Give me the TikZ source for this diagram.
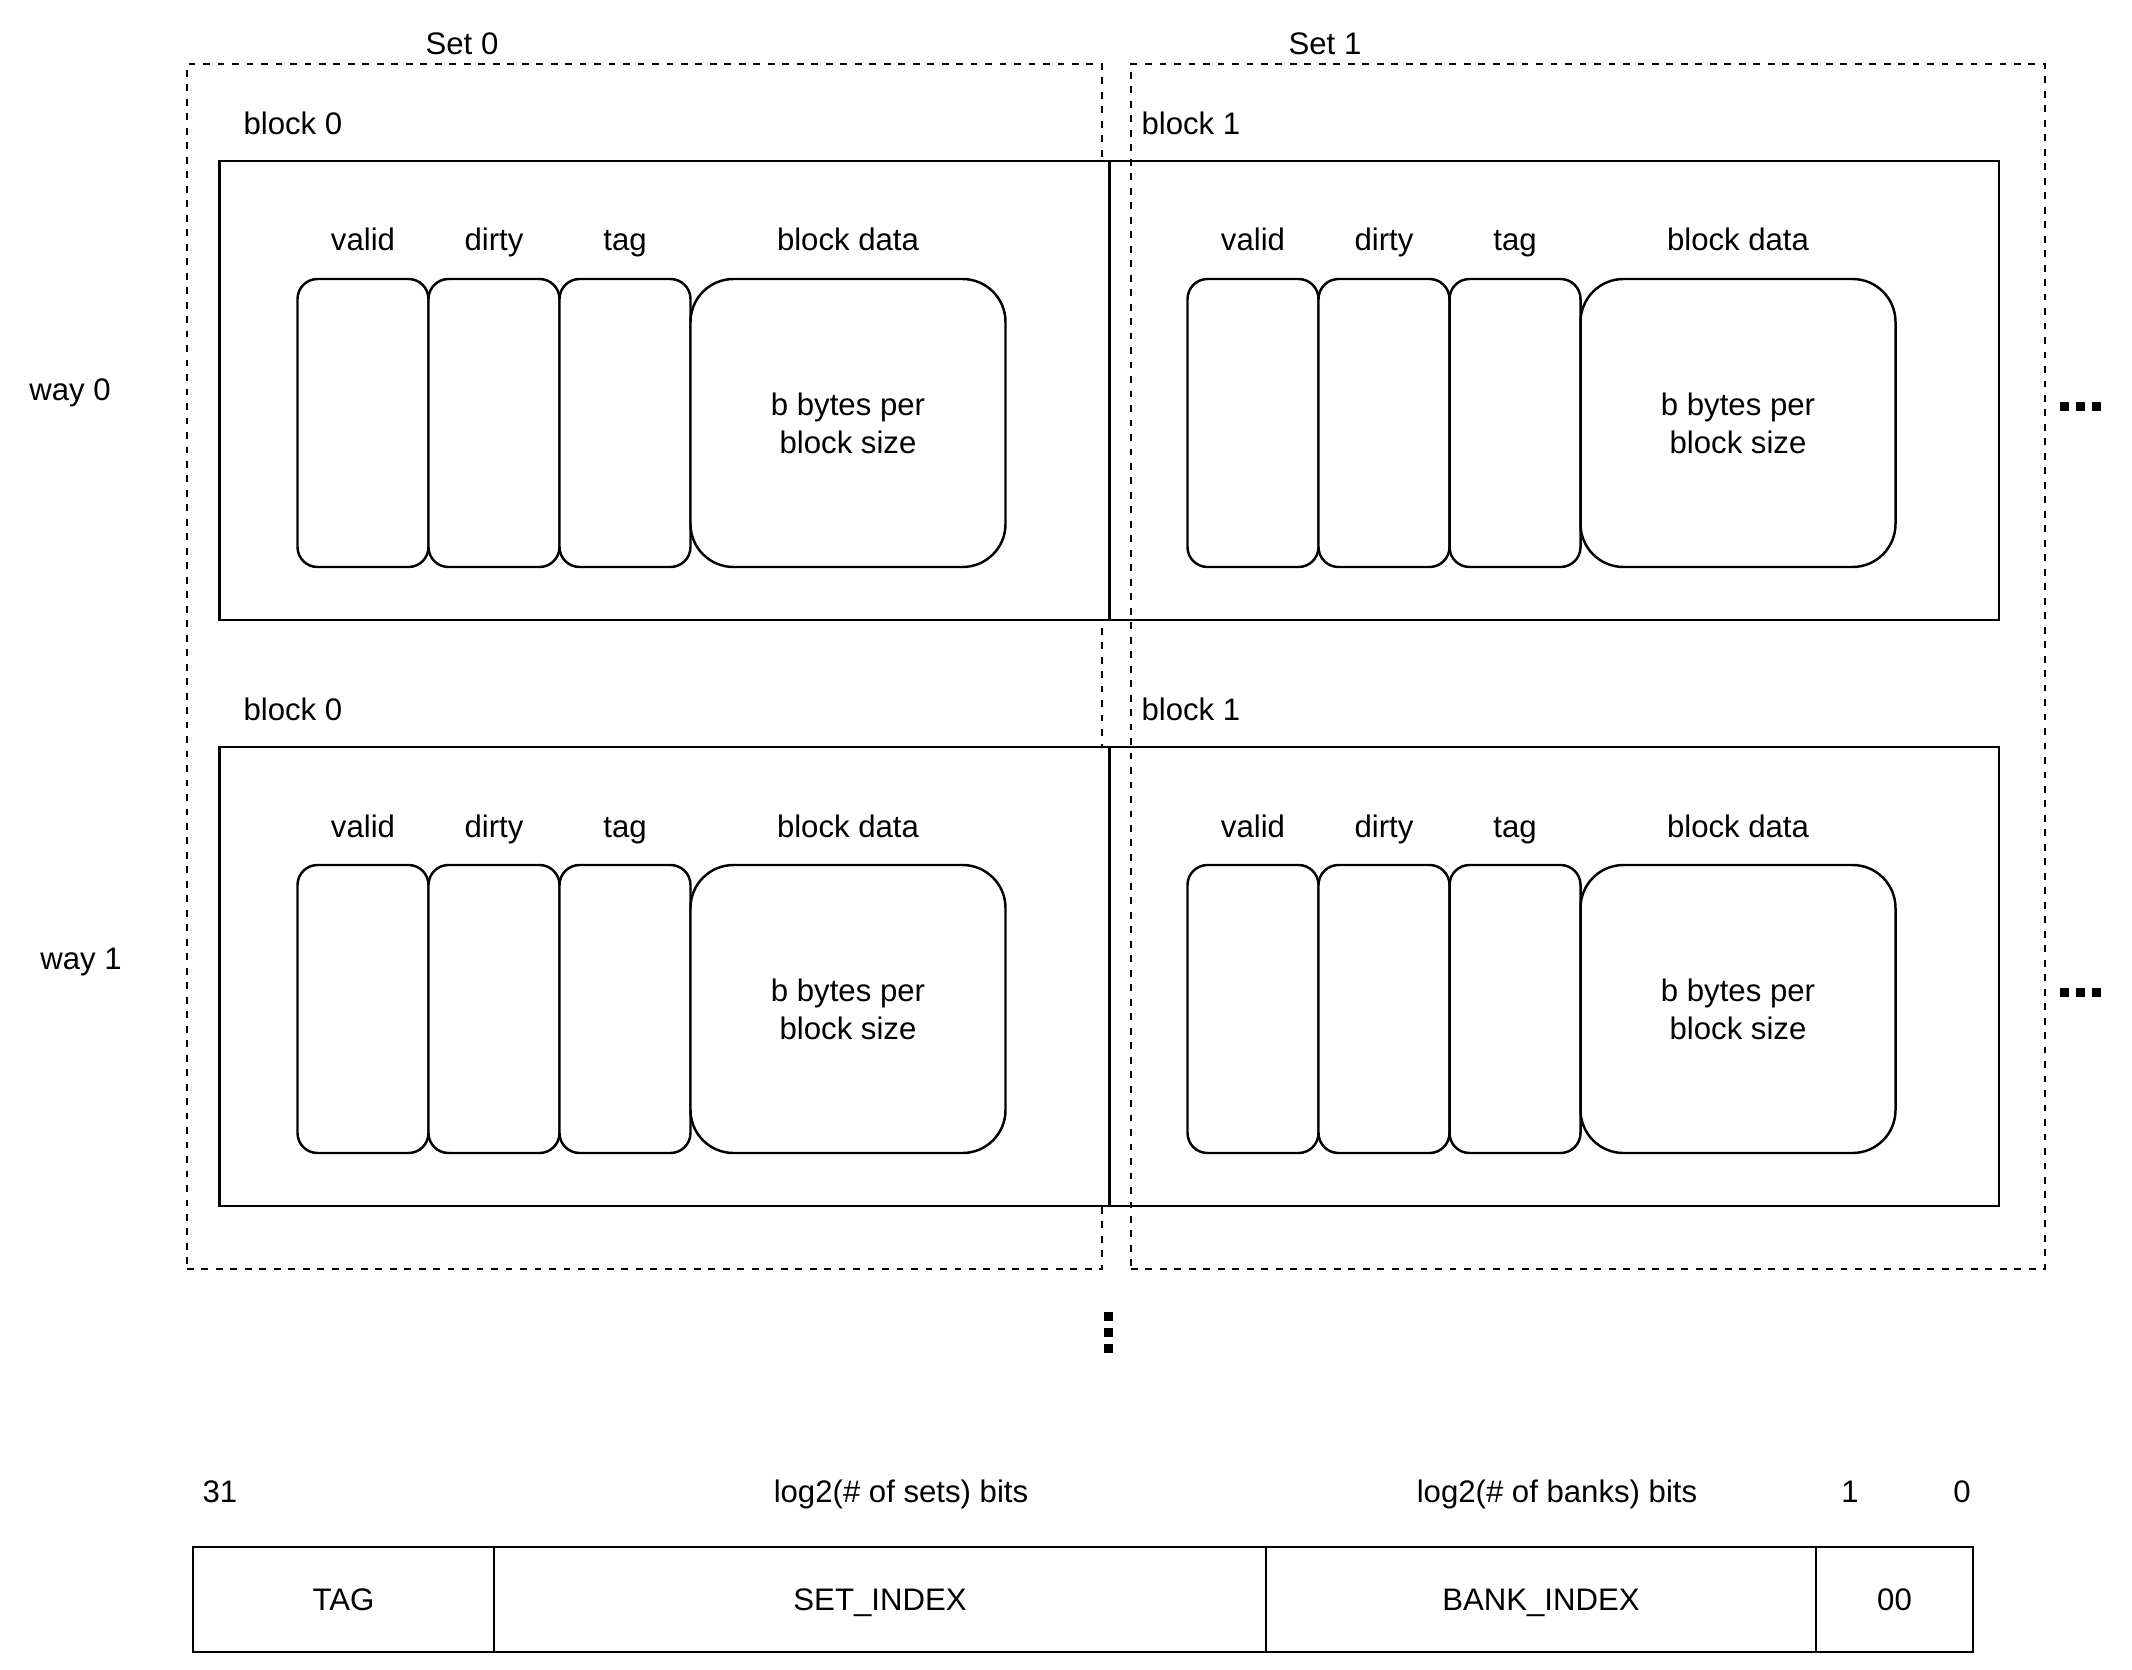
\documentclass[tikz,border=0pt]{standalone}
\usepackage{fontspec}
\setmainfont{Liberation Sans}
\usetikzlibrary{positioning}

\newcommand\pxu{0.366pt}

\tikzset{
  setbox/.style={draw, line width=1pt, dash pattern=on 2.5pt off 2.8pt},
  blockbox/.style={draw, fill=white, line width=1pt, inner sep=0pt,
    minimum width=889.5*\pxu, minimum height=459*\pxu},
  field/.style={draw, fill=white, line width=0.9pt, inner sep=0pt, outer sep=0pt,
    rounded corners=20*\pxu, minimum width=131*\pxu, minimum height=288*\pxu},
  datafield/.style={field, rounded corners=43*\pxu, minimum width=315*\pxu, align=center},
  sq/.style={fill, inner sep=0pt, minimum size=9*\pxu},
  bitlbl/.style={anchor=base, inner sep=0pt},
  addr/.style={draw, line width=1pt, inner sep=0pt, outer sep=0pt, text depth=0pt,
    minimum height=105*\pxu}
}

\begin{document}
\begin{tikzpicture}[x=\pxu, y=-\pxu, font=\fontsize{11.4pt}{13.9pt}\selectfont]
  \useasboundingbox (0,0) rectangle (2132,1670);

  \node[setbox, inner sep=0pt, minimum width=915*\pxu, minimum height=1205*\pxu] (set0) at (644.5,666.5) {};
  \node (set0lbl) at (462,44) {Set 0};
  \node (set1lbl) at (1325,44) {Set 1};

  \foreach \w/\dy/\wx/\wy in {0/0/70/393,1/586/81/962}{
    \node (way\w) at (\wx,\wy) {way \w};
    \foreach \b/\dx/\lx in {0/0/243,1/890/1141}{
      \node[blockbox] (blk\w\b) at (664.3+\dx,390.5+\dy) {};
      \node[anchor=west, inner sep=0pt] (blklbl\w\b) at (\lx,123+\dy) {block \b};
    }
  }

  \node[setbox, inner sep=0pt, minimum width=914*\pxu, minimum height=1205*\pxu] (set1) at (1588,666.5) {};

  \foreach \w/\dy in {0/0,1/586}{
    \foreach \b/\dx in {0/0,1/890}{
      \node[field] (valid\w\b) at (363+\dx,423+\dy) {};
      \node[field, right=0pt of valid\w\b] (dirty\w\b) {};
      \node[field, right=0pt of dirty\w\b] (tag\w\b) {};
      \node[datafield, right=0pt of tag\w\b] (data\w\b) {b bytes per\\block size};
      \path (valid\w\b.north) ++(0,-28) node[anchor=base] {valid};
      \path (dirty\w\b.north) ++(0,-28) node[anchor=base] {dirty};
      \path (tag\w\b.north) ++(0,-28) node[anchor=base] {tag};
      \path (data\w\b.north) ++(0,-28) node[anchor=base] {block data};
    }
    \node[sq] (more\w a) at (2064,406+\dy) {};
    \node[sq] (more\w b) at (2080,406+\dy) {};
    \node[sq] (more\w c) at (2096,406+\dy) {};
  }

  \node[sq] (vdots1) at (1108,1316) {};
  \node[sq] (vdots2) at (1108,1332) {};
  \node[sq] (vdots3) at (1108,1348) {};

  \node[bitlbl] (bit31) at (220,1502) {31};
  \node[bitlbl] (setbits) at (901,1502) {log2(\# of sets) bits};
  \node[bitlbl] (bankbits) at (1557,1502) {log2(\# of banks) bits};
  \node[bitlbl] (bit1) at (1850,1502) {1};
  \node[bitlbl] (bit0) at (1962,1502) {0};

  \node[addr, minimum width=301*\pxu] (tagf) at (343.5,1599.5) {TAG};
  \node[addr, minimum width=772*\pxu, right=0pt of tagf] (setf) {SET\_INDEX};
  \node[addr, minimum width=550*\pxu, right=0pt of setf] (bankf) {BANK\_INDEX};
  \node[addr, minimum width=157*\pxu, right=0pt of bankf] (offf) {00};
\end{tikzpicture}
\end{document}
